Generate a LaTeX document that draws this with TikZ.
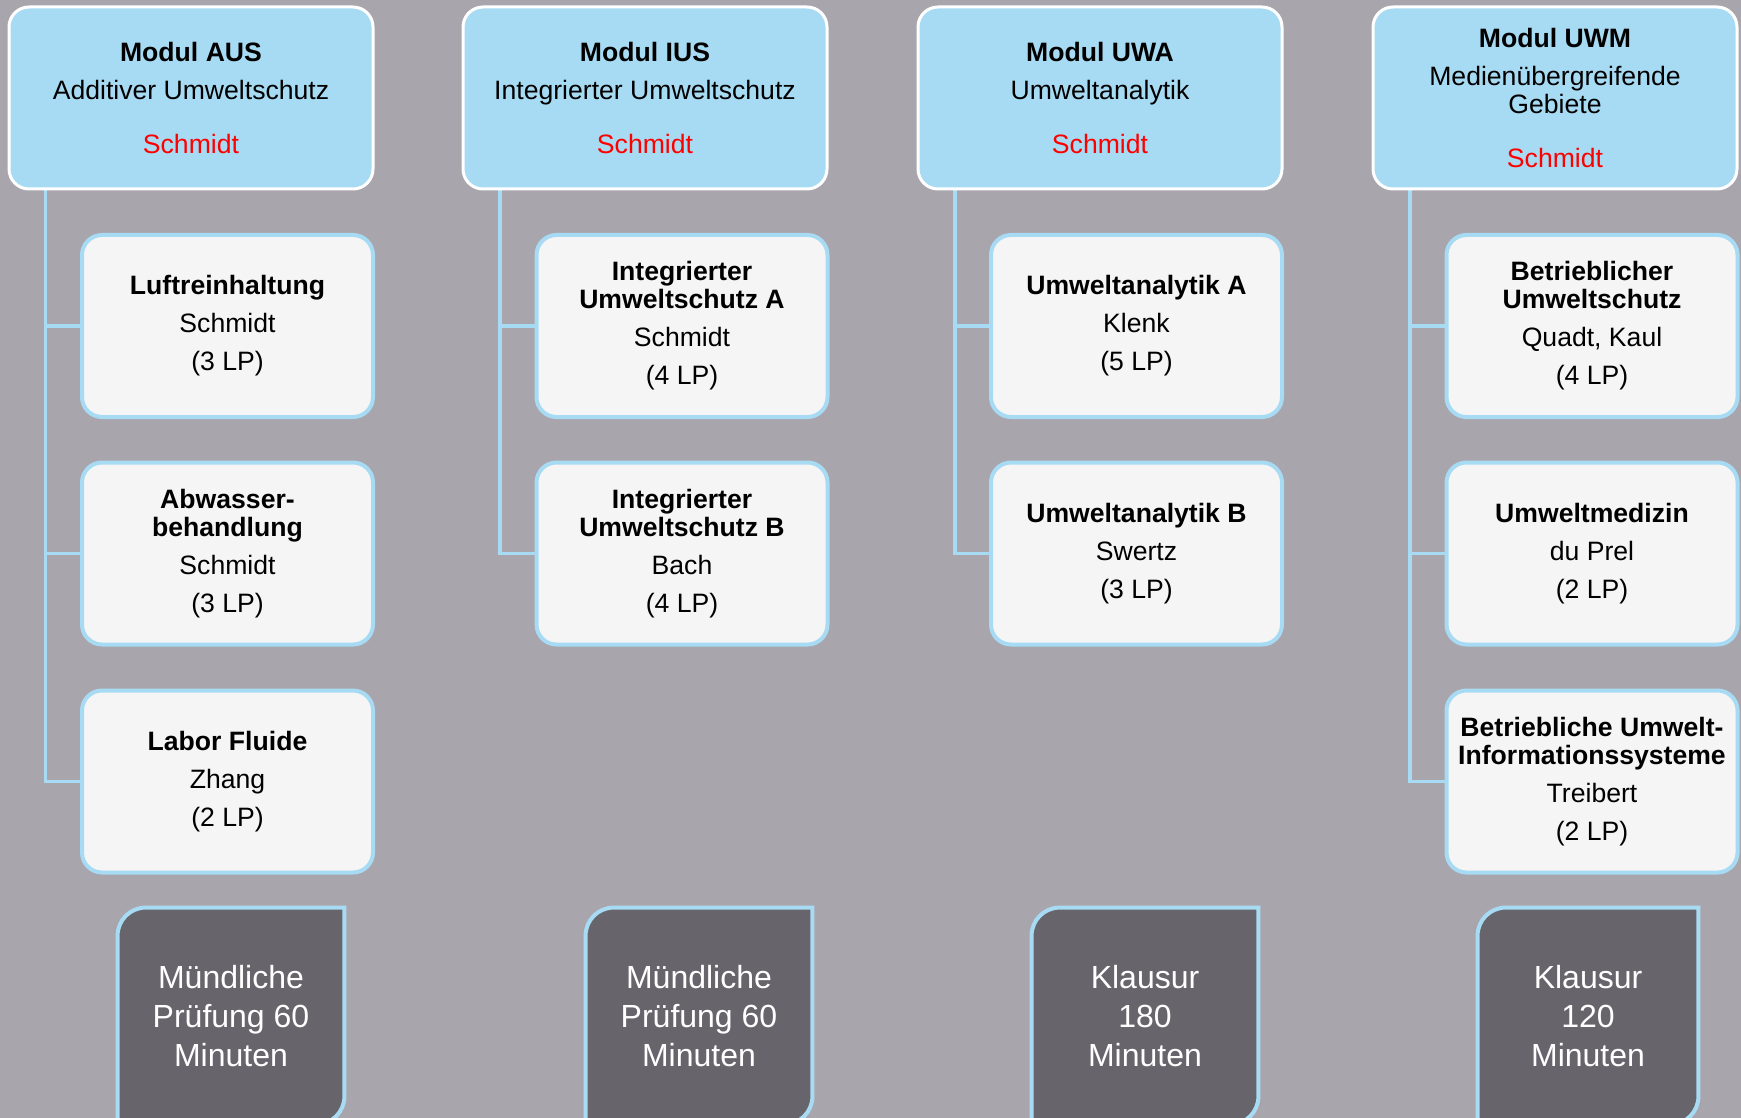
\documentclass[tikz,border=0pt]{standalone}
\usepackage{fontspec}
\setmainfont{Liberation Sans}
\usetikzlibrary{backgrounds}
\definecolor{bggray}{RGB}{169,165,173}
\definecolor{modblue}{RGB}{167,219,243}
\definecolor{subfill}{RGB}{245,245,245}
\definecolor{examgray}{RGB}{104,100,108}
\definecolor{leadred}{RGB}{255,0,0}
\newcommand{\lead}[1]{\textcolor{leadred}{#1}}
\begin{document}
\begin{tikzpicture}[x=0.5pt,y=0.5pt,
    modbox/.style={draw=white,line width=1.5pt,fill=modblue,rounded corners=10pt,
      minimum width=182pt,minimum height=91pt,inner sep=0pt,align=center,
      font=\fontsize{13.3}{14}\selectfont},
    subbox/.style={draw=modblue,line width=2pt,fill=subfill,rounded corners=10pt,
      minimum width=145.5pt,minimum height=91pt,inner sep=0pt,align=center,
      font=\fontsize{13.3}{14}\selectfont},
    examtext/.style={minimum width=113pt,minimum height=108pt,inner sep=0pt,
      align=center,text=white,font=\fontsize{16}{19.5}\selectfont},
    exambox/.style={draw=modblue,line width=2pt,fill=examgray},
    link/.style={draw=modblue,line width=1.6pt}]
    \useasboundingbox (0,0) rectangle (1741,-1118);
    \begin{scope}[on background layer]
    \fill[bggray] (0,0) rectangle (1741,-1118);
    \end{scope}
    % module heads
    \node[modbox] (modAUS) at (191,-98) {\textbf{Modul AUS}\\[5pt]Additiver Umweltschutz\\[13pt]\lead{Schmidt}};
    \node[modbox] (modIUS) at (645,-98) {\textbf{Modul IUS}\\[5pt]Integrierter Umweltschutz\\[13pt]\lead{Schmidt}};
    \node[modbox] (modUWA) at (1100,-98) {\textbf{Modul UWA}\\[5pt]Umweltanalytik\\[13pt]\lead{Schmidt}};
    \node[modbox] (modUWM) at (1555,-98) {\textbf{Modul UWM}\\[5pt]Medienübergreifende\\Gebiete\\[13pt]\lead{Schmidt}};
    % courses
    \node[subbox] (luft) at (227.5,-326) {\textbf{Luftreinhaltung}\\[5pt]Schmidt\\[5pt](3 LP)};
    \node[subbox] (abw) at (227.5,-553.5) {\textbf{Abwasser-}\\\textbf{behandlung}\\[5pt]Schmidt\\[5pt](3 LP)};
    \node[subbox] (labor) at (227.5,-781.5) {\textbf{Labor Fluide}\\[5pt]Zhang\\[5pt](2 LP)};
    \node[subbox] (iusA) at (682,-326) {\textbf{Integrierter}\\\textbf{Umweltschutz A}\\[5pt]Schmidt\\[5pt](4 LP)};
    \node[subbox] (iusB) at (682,-553.5) {\textbf{Integrierter}\\\textbf{Umweltschutz B}\\[5pt]Bach\\[5pt](4 LP)};
    \node[subbox] (uwaA) at (1136.5,-326) {\textbf{Umweltanalytik A}\\[5pt]Klenk\\[5pt](5 LP)};
    \node[subbox] (uwaB) at (1136.5,-553.5) {\textbf{Umweltanalytik B}\\[5pt]Swertz\\[5pt](3 LP)};
    \node[subbox] (betr) at (1592,-326) {\textbf{Betrieblicher}\\\textbf{Umweltschutz}\\[5pt]Quadt, Kaul\\[5pt](4 LP)};
    \node[subbox] (umed) at (1592,-553.5) {\textbf{Umweltmedizin}\\[5pt]du Prel\\[5pt](2 LP)};
    \node[subbox] (buis) at (1592,-781.5) {\textbf{Betriebliche Umwelt-}\\\textbf{Informationssysteme}\\[5pt]Treibert\\[5pt](2 LP)};
    % exams
    \node[examtext] (exAUS) at (231,-1016) {Mündliche\\Prüfung 60\\Minuten};
    \node[examtext] (exIUS) at (699,-1016) {Mündliche\\Prüfung 60\\Minuten};
    \node[examtext] (exUWA) at (1145,-1016) {Klausur\\180\\Minuten};
    \node[examtext,minimum width=110pt] (exUWM) at (1588,-1016) {Klausur\\120\\Minuten};
    \coordinate (trAUS) at (45.5,-190);
    \coordinate (trIUS) at (500,-190);
    \coordinate (trUWA) at (955,-190);
    \coordinate (trUWM) at (1410,-190);
    \begin{scope}[on background layer]
    \draw[link] (trAUS) |- (luft.west);
    \draw[link] (trAUS) |- (abw.west);
    \draw[link] (trAUS) |- (labor.west);
    \draw[link] (trIUS) |- (iusA.west);
    \draw[link] (trIUS) |- (iusB.west);
    \draw[link] (trUWA) |- (uwaA.west);
    \draw[link] (trUWA) |- (uwaB.west);
    \draw[link] (trUWM) |- (betr.west);
    \draw[link] (trUWM) |- (umed.west);
    \draw[link] (trUWM) |- (buis.west);
    \foreach \ex in {exAUS,exIUS,exUWA,exUWM}
      \draw[exambox] (\ex.south west) -- ([yshift=-14pt]\ex.north west)
        arc[start angle=180,end angle=90,radius=14pt] -- (\ex.north east)
        -- ([yshift=14pt]\ex.south east) arc[start angle=0,end angle=-90,radius=14pt] -- cycle;
    \end{scope}
\end{tikzpicture}
\end{document}
